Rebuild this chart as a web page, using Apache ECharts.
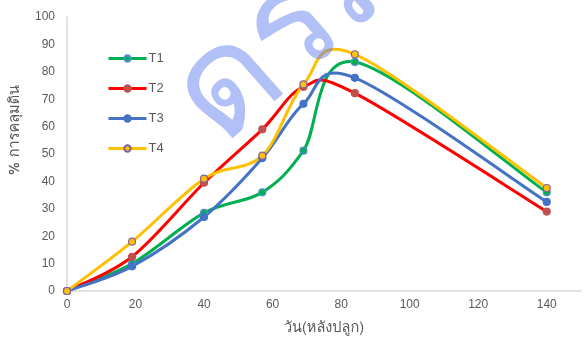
<!DOCTYPE html>
<html>
<head>
<meta charset="utf-8">
<script src="https://cdn.jsdelivr.net/npm/echarts@6/dist/echarts.min.js"></script>
<style>
  html, body { margin: 0; padding: 0; background: #fff; }
  #chart { width: 584px; height: 345px; }
</style>
</head>
<body>
<div id="chart"></div>
<script>
// Days after planting and ground cover (%) for each treatment
const days = [0, 19, 40, 57, 69, 84, 140];
const t1 = [0, 10, 28.5, 36, 51.2, 83.6, 36];
const t2 = [0, 12.5, 39.5, 59, 74.5, 72.2, 29];
const t3 = [0, 9, 27, 48.5, 68.3, 77.8, 32.5];
const t4 = [0, 18, 41, 49.4, 75.4, 86.4, 37.6];
const seriesNames = ['T1', 'T2', 'T3', 'T4'];
const xTicks = [0, 20, 40, 60, 80, 100, 120, 140];
const yTicks = [0, 10, 20, 30, 40, 50, 60, 70, 80, 90, 100];
const xTitle = 'วัน(หลังปลูก)';
const yTitle = '% การคลุมดิน';
const stamp = 'ดรม';

// Pick the first installed Thai-capable face from a list of candidates
function pickFont(candidates) {
  const ctx = document.createElement('canvas').getContext('2d');
  const sample = 'mmwwiilฟกดรม';
  for (const f of candidates) {
    for (const base of ['monospace', 'serif']) {
      ctx.font = '20px ' + base;
      const w0 = ctx.measureText(sample).width;
      ctx.font = '20px "' + f + '", ' + base;
      if (ctx.measureText(sample).width !== w0) return f;
    }
  }
  return 'sans-serif';
}
const thaiFace = pickFont(['Tahoma', 'Leelawadee UI', 'Loma', 'Garuda', 'Sawasdee', 'Noto Sans Thai', 'Noto Sans Thai UI', 'Norasi']);
const thaiFont = '"' + thaiFace + '", "Noto Sans", sans-serif';
const numFont = '"Liberation Sans", Arial, sans-serif';

// Size the Thai titles so the axis caption spans close to 93px without getting too tall
function titleSize() {
  const ctx = document.createElement('canvas').getContext('2d');
  ctx.font = '13px ' + thaiFont;
  const w = ctx.measureText(xTitle).width;
  return Math.max(12, Math.min(14.5, 13 * 93 / w));
}
const thaiSize = titleSize();

const styles = [
  { line: '#00B050', fill: '#00B050', border: '#5B8BD6' },
  { line: '#FF0000', fill: '#C0504D', border: '#C0504D' },
  { line: '#4472C4', fill: '#4472C4', border: '#4472C4' },
  { line: '#FFC000', fill: '#FFC000', border: '#8064A2' }
];
const values = [t1, t2, t3, t4];

// Smoothed curve: cubic Bezier segments with Catmull-Rom style control points (1/6 of neighbour span)
function curveRenderer(vals, color) {
  const n = days.length;
  return function (params, api) {
    const i = params.dataIndex;
    if (i >= n - 1) return null;
    const at = k => {
      const j = Math.max(0, Math.min(n - 1, k));
      return api.coord([days[j], vals[j]]);
    };
    const p0 = at(i - 1), p1 = at(i), p2 = at(i + 1), p3 = at(i + 2);
    return {
      type: 'bezierCurve',
      silent: true,
      shape: {
        x1: p1[0], y1: p1[1],
        cpx1: p1[0] + (p2[0] - p0[0]) / 6, cpy1: p1[1] + (p2[1] - p0[1]) / 6,
        cpx2: p2[0] - (p3[0] - p1[0]) / 6, cpy2: p2[1] - (p3[1] - p1[1]) / 6,
        x2: p2[0], y2: p2[1]
      },
      style: { stroke: color, lineWidth: 3, fill: null, lineCap: 'round' }
    };
  };
}

const chart = echarts.init(document.getElementById('chart'), null, { renderer: 'canvas' });

const markerSeries = values.map((vals, i) => ({
  name: seriesNames[i],
  type: 'line',
  data: days.map((d, k) => [d, vals[k]]),
  symbol: 'circle',
  symbolSize: 7,
  showSymbol: true,
  lineStyle: { color: styles[i].line, width: 3, opacity: 0 },
  itemStyle: { color: styles[i].fill, borderColor: styles[i].border, borderWidth: 1.2 },
  emphasis: { disabled: true },
  z: 10 + i
}));

const curveSeries = values.map((vals, i) => ({
  name: seriesNames[i],
  type: 'custom',
  data: days.map((d, k) => [d, vals[k]]),
  encode: { x: 0, y: 1 },
  renderItem: curveRenderer(vals, styles[i].line),
  z: 2 + i
}));

chart.setOption({
  animation: false,
  backgroundColor: '#ffffff',
  grid: { left: 67, right: -6, top: 17, bottom: 54, containLabel: false },
  legend: {
    data: seriesNames.map((name, i) => ({
      name: name,
      lineStyle: { color: styles[i].line, width: 3, opacity: 1 }
    })),
    orient: 'vertical',
    left: 102,
    top: 47,
    itemWidth: 38,
    itemHeight: 8,
    itemGap: 17,
    textStyle: { color: '#595959', fontSize: 13, fontFamily: numFont, padding: [0, 0, 0, -3] }
  },
  xAxis: {
    type: 'value',
    min: 0,
    max: 150,
    interval: 20,
    name: xTitle,
    nameLocation: 'middle',
    nameGap: 30,
    nameTextStyle: { color: '#595959', fontSize: thaiSize, fontFamily: thaiFont },
    axisLine: { show: true, lineStyle: { color: '#D9D9D9', width: 1.5 } },
    axisTick: { show: false },
    splitLine: { show: false },
    axisLabel: {
      color: '#595959', fontSize: 12, fontFamily: numFont, margin: 8,
      formatter: v => (xTicks.indexOf(v) >= 0 ? String(v) : '')
    }
  },
  yAxis: {
    type: 'value',
    min: 0,
    max: 100,
    interval: 10,
    axisLine: { show: true, lineStyle: { color: '#D9D9D9', width: 1.5 } },
    axisTick: { show: false },
    splitLine: { show: false },
    axisLabel: {
      color: '#595959', fontSize: 12, fontFamily: numFont, margin: 12,
      formatter: v => (yTicks.indexOf(v) >= 0 ? String(v) : '')
    }
  },
  graphic: [
    {
      type: 'text',
      x: 16,
      y: 130,
      rotation: Math.PI / 2,
      style: {
        text: yTitle,
        fill: '#595959',
        fontSize: thaiSize,
        fontFamily: thaiFont,
        align: 'center',
        verticalAlign: 'middle'
      },
      z: 10
    },
    {
      type: 'text',
      x: 300,
      y: 36,
      rotation: 0.72,
      style: {
        text: stamp,
        fill: 'rgba(100,130,240,0.5)',
        fontSize: 145,
        fontWeight: 'normal',
        fontFamily: thaiFont,
        align: 'center',
        verticalAlign: 'middle'
      },
      z: 100
    }
  ],
  series: markerSeries.concat(curveSeries)
});
</script>
</body>
</html>
